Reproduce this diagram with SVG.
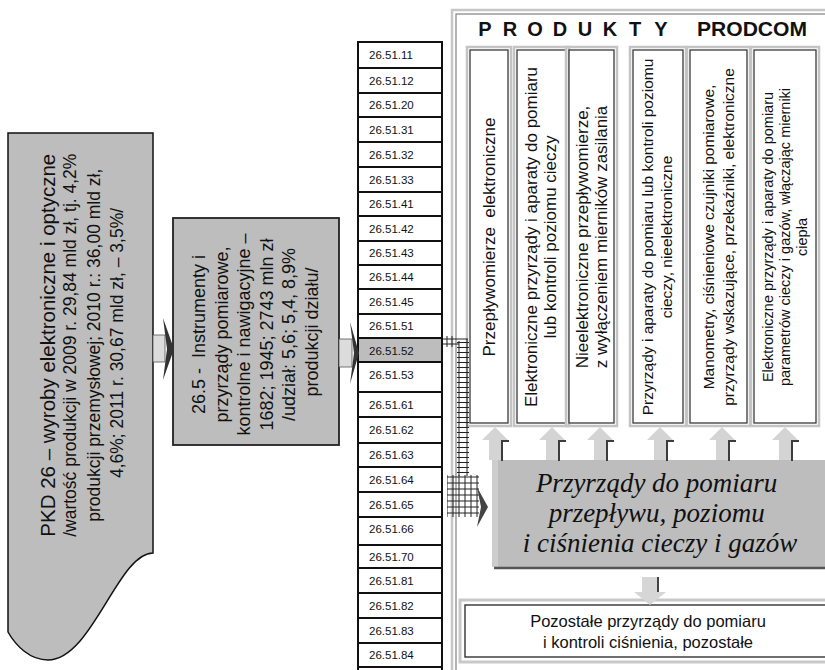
<svg xmlns="http://www.w3.org/2000/svg" width="825" height="670" viewBox="0 0 825 670">
<style>
.t{font-family:"Liberation Sans",Arial,sans-serif;fill:#111}
.code{font-size:11.5px}
.pin{fill:#fff;stroke:#3a3a3a;stroke-width:1.3}
.pout{fill:none;stroke:#c4c4c4;stroke-width:2.5}
.ua{fill:#d4d4d4}
.sh{fill:none;stroke:#3c3c3c;stroke-width:2}
.rl{stroke:#111;stroke-width:2}
</style>
<defs>
<pattern id="ladder" width="14" height="5" patternUnits="userSpaceOnUse"><path d="M0,2.5H14" stroke="#222" stroke-width="1"/></pattern>
<pattern id="grid" width="6" height="6" patternUnits="userSpaceOnUse"><path d="M0,3H6M3,0V6" stroke="#222" stroke-width="1"/></pattern>
<g id="uparrow"><path class="ua" d="M0,0L13,13H6V33H-6V13H-13Z"/><path class="sh" d="M6,14H14M7,14V34"/></g>
</defs>
<rect width="825" height="670" fill="#fff"/>

<!-- right panel frame -->
<g id="panel">
<rect x="452" y="10" width="400" height="700" fill="#fff" stroke="#c6c6c6" stroke-width="2.5"/>
<rect x="456" y="14" width="400" height="700" fill="none" stroke="#808080" stroke-width="1.2"/>
<text class="t" y="36" font-size="20" font-weight="bold" text-anchor="middle"><tspan x="485">P</tspan><tspan x="510">R</tspan><tspan x="535">O</tspan><tspan x="560">D</tspan><tspan x="585">U</tspan><tspan x="610">K</tspan><tspan x="635">T</tspan><tspan x="661">Y</tspan></text>
<text class="t" x="697" y="36" font-size="20" font-weight="bold" textLength="110" lengthAdjust="spacingAndGlyphs">PRODCOM</text>
</g>

<!-- left node -->
<g id="pkd26">
<path d="M8,133H153V553C118,553 92,660 48,660C30,660 16,646 8,632Z" fill="#bdbdbd" stroke="#111" stroke-width="1.5"/>
<text class="t" transform="translate(0,343) rotate(-90)" text-anchor="middle">
<tspan x="0" y="55" font-size="20.5">PKD 26 – wyroby elektroniczne i optyczne</tspan>
<tspan x="0" y="76" font-size="17.5">/wartość produkcji w 2009 r. 29,84 mld zł, tj. 4,2%</tspan>
<tspan x="0" y="100" font-size="17.5">produkcji przemysłowej; 2010 r.: 36,00 mld zł,</tspan>
<tspan x="0" y="123" font-size="17.5">4,6%; 2011 r. 30,67 mld zł, – 3,5%/</tspan>
</text>
</g>

<!-- middle node -->
<g id="pkd265">
<rect x="173" y="218" width="166" height="227" fill="#bdbdbd" stroke="#222" stroke-width="1.8"/>
<text class="t" transform="translate(0,332) rotate(-90)" text-anchor="middle" font-size="18">
<tspan x="0" y="205" xml:space="preserve">26.5 -  Instrumenty i</tspan>
<tspan x="0" y="228">przyrządy pomiarowe,</tspan>
<tspan x="0" y="250">kontrolne i nawigacyjne –</tspan>
<tspan x="0" y="273">1682; 1945; 2743 mln zł</tspan>
<tspan x="0" y="295">/udział: 5,6; 5,4, 8,9%</tspan>
<tspan x="0" y="318">produkcji działu/</tspan>
</text>
</g>

<!-- code column -->
<g id="codes">
<rect x="358" y="42" width="84" height="640" fill="#fff" stroke="#111" stroke-width="2"/>
<rect x="359" y="338" width="82" height="24" fill="#bdbdbd"/>
<path class="rl" d="M358,68H442M358,93H442M358,117H442M358,142H442M358,167H442M358,192H442M358,216H442M358,241H442M358,265H442M358,289H442M358,314H442M358,338H442M358,362H442M358,392H442M358,417H442M358,443H442M358,467H442M358,492H442M358,517H442M358,545H442M358,568H442M358,593H442M358,618H442M358,643H442M358,667H442"/>
<g class="t code">
<text x="369" y="59">26.51.11</text>
<text x="369" y="85">26.51.12</text>
<text x="369" y="109">26.51.20</text>
<text x="369" y="134">26.51.31</text>
<text x="369" y="159">26.51.32</text>
<text x="369" y="184">26.51.33</text>
<text x="369" y="208">26.51.41</text>
<text x="369" y="233">26.51.42</text>
<text x="369" y="257">26.51.43</text>
<text x="369" y="281">26.51.44</text>
<text x="369" y="306">26.51.45</text>
<text x="369" y="330">26.51.51</text>
<text x="369" y="355">26.51.52</text>
<text x="369" y="379">26.51.53</text>
<text x="369" y="409">26.51.61</text>
<text x="369" y="434">26.51.62</text>
<text x="369" y="459">26.51.63</text>
<text x="369" y="484">26.51.64</text>
<text x="369" y="509">26.51.65</text>
<text x="369" y="533">26.51.66</text>
<text x="369" y="561">26.51.70</text>
<text x="369" y="585">26.51.81</text>
<text x="369" y="610">26.51.82</text>
<text x="369" y="635">26.51.83</text>
<text x="369" y="659">26.51.84</text>
</g>
</g>

<!-- product boxes -->
<g id="p1"><rect class="pout" x="467" y="47" width="44" height="379"/><rect class="pin" x="470" y="50" width="38" height="373"/>
<text class="t" transform="translate(0,237) rotate(-90)" text-anchor="middle" font-size="17"><tspan x="0" y="495">Przepływomierze&#160; elektroniczne</tspan></text></g>
<g id="p2"><rect class="pout" x="514" y="47" width="55" height="379"/><rect class="pin" x="517" y="50" width="49" height="373"/>
<text class="t" transform="translate(0,237) rotate(-90)" text-anchor="middle" font-size="17"><tspan x="0" y="537">Elektroniczne przyrządy i aparaty do pomiaru</tspan><tspan x="0" y="556">lub kontroli poziomu cieczy</tspan></text></g>
<g id="p3"><rect class="pout" x="566" y="47" width="51" height="379"/><rect class="pin" x="569" y="50" width="45" height="373"/>
<text class="t" transform="translate(0,237) rotate(-90)" text-anchor="middle" font-size="17"><tspan x="0" y="588">Nieelektroniczne przepływomierze,</tspan><tspan x="0" y="607">z wyłączeniem mierników zasilania</tspan></text></g>
<g id="p4"><rect class="pout" x="630" y="47" width="56" height="379"/><rect class="pin" x="633" y="50" width="50" height="373"/>
<text class="t" transform="translate(0,237) rotate(-90)" text-anchor="middle" font-size="15.5"><tspan x="0" y="653">Przyrządy i aparaty do pomiaru lub kontroli poziomu</tspan><tspan x="0" y="672">cieczy, nieelektroniczne</tspan></text></g>
<g id="p5"><rect class="pout" x="687" y="47" width="63" height="379"/><rect class="pin" x="690" y="50" width="57" height="373"/>
<text class="t" transform="translate(0,237) rotate(-90)" text-anchor="middle" font-size="15.5"><tspan x="0" y="714">Manometry, ciśnieniowe czujniki pomiarowe,</tspan><tspan x="0" y="734">przyrządy wskazujące, przekaźniki, elektroniczne</tspan></text></g>
<g id="p6"><rect class="pout" x="751" y="47" width="68" height="379"/><rect class="pin" x="754" y="50" width="62" height="373"/>
<text class="t" transform="translate(0,237) rotate(-90)" text-anchor="middle" font-size="14.5"><tspan x="0" y="773">Elektroniczne przyrządy i aparaty do pomiaru</tspan><tspan x="0" y="790">parametrów cieczy i gazów, włączając mierniki</tspan><tspan x="0" y="807">ciepła</tspan></text></g>

<!-- central node -->
<g id="central">
<rect x="492" y="460" width="345" height="107" fill="#bdbdbd"/>
<rect x="492" y="460" width="6" height="107" fill="#cdcdcd"/>
<path d="M494,568H830" stroke="#555" stroke-width="2.5"/>
<text transform="translate(660,0)" text-anchor="middle" font-family="'Liberation Serif','Times New Roman',serif" font-style="italic" font-size="27" fill="#111">
<tspan x="0" y="492">Przyrządy do pomiaru</tspan>
<tspan x="0" y="522">przepływu, poziomu</tspan>
<tspan x="0" y="552">i ciśnienia cieczy i gazów</tspan>
</text>
</g>

<!-- bottom node -->
<g id="pozostale">
<rect x="460" y="600" width="380" height="62" fill="none" stroke="#c8c8c8" stroke-width="3"/>
<rect x="465" y="605" width="370" height="52" fill="#fff" stroke="#333" stroke-width="1.4"/>
<text class="t" x="648" y="627" text-anchor="middle" font-size="16.5">Pozostałe przyrządy do pomiaru</text>
<text class="t" x="648" y="648" text-anchor="middle" font-size="16.5">i kontroli ciśnienia, pozostałe</text>
</g>

<!-- connectors -->
<g id="connectors">
<rect x="153" y="335" width="12" height="27" fill="#dcdcdc" stroke="#555" stroke-width="0.8"/>
<polygon points="163,318 174,349 163,380 167,349" fill="#333"/>
<rect x="339" y="339" width="13" height="28" fill="#dcdcdc" stroke="#555" stroke-width="0.8"/>
<polygon points="350,322 359,353 350,384 354,353" fill="#333"/>

<use href="#uparrow" x="495" y="427"/>
<use href="#uparrow" x="552" y="427"/>
<use href="#uparrow" x="600" y="427"/>
<use href="#uparrow" x="660" y="427"/>
<use href="#uparrow" x="722" y="427"/>
<use href="#uparrow" x="785" y="427"/>

<path d="M642,577H658V592H666L650,605L634,592H642Z" fill="#d6d6d6"/>
<path d="M658,577V592" stroke="#444" stroke-width="2"/>

<path d="M443,339H468M443,344H459M447,336V347M452,336V347" stroke="#222" stroke-width="1" fill="none"/>
<rect x="457" y="341" width="12" height="134" fill="url(#ladder)"/>
<path d="M459,341V476M467,339V476" stroke="#222" stroke-width="1"/>
<rect x="447" y="475" width="32" height="42" fill="url(#grid)"/>
<polygon points="477,487 488,507 477,527 481,507" fill="#444"/>
</g>
</svg>
